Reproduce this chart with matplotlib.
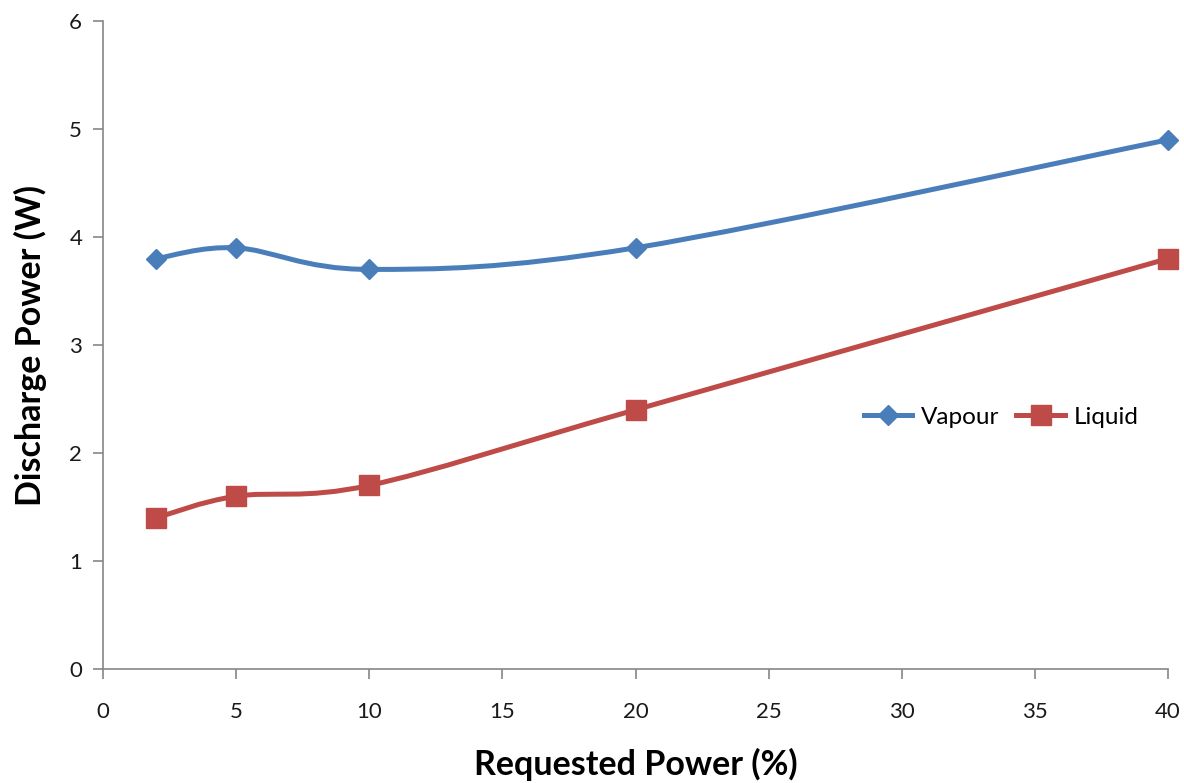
import matplotlib
matplotlib.use("Agg")
import matplotlib.pyplot as plt
import numpy as np
from matplotlib.path import Path
from matplotlib.patches import PathPatch
from matplotlib.lines import Line2D

plt.rcParams["font.family"] = ["Lato", "DejaVu Sans"]

# data
requested = [2, 5, 10, 20, 40]
vapour = [3.8, 3.9, 3.7, 3.9, 4.9]
liquid = [1.4, 1.6, 1.7, 2.4, 3.8]

x_ticks = [0, 5, 10, 15, 20, 25, 30, 35, 40]
y_ticks = [0, 1, 2, 3, 4, 5, 6]

BLUE = "#4a7ebb"
RED = "#be4b48"
AXIS = "#868686"


def smooth_path(xs, ys):
    # Excel-style smoothed line: Catmull-Rom segments as cubic Beziers
    pts = np.column_stack([xs, ys]).astype(float)
    n = len(pts)
    verts = [pts[0]]
    codes = [Path.MOVETO]
    for i in range(n - 1):
        p0 = pts[i - 1] if i > 0 else pts[i]
        p1 = pts[i]
        p2 = pts[i + 1]
        p3 = pts[i + 2] if i + 2 < n else pts[i + 1]
        c1 = p1 + (p2 - p0) / 6.0
        c2 = p2 - (p3 - p1) / 6.0
        verts += [c1, c2, p2]
        codes += [Path.CURVE4] * 3
    return Path(verts, codes)


fig = plt.figure(figsize=(11.84, 7.83), dpi=100)
ax = fig.add_axes([103 / 1184, 1 - 669 / 783, (1168 - 103) / 1184, (669 - 21) / 783])

LW = 3.6
for ys, color, marker, ms in [
    (vapour, BLUE, "D", 10.5),
    (liquid, RED, "s", 14),
]:
    ax.add_patch(PathPatch(smooth_path(requested, ys), facecolor="none",
                           edgecolor=color, linewidth=LW, zorder=2,
                           capstyle="round"))
    ax.plot(requested, ys, linestyle="none", marker=marker, markersize=ms,
            color=color, zorder=3, clip_on=False)

ax.set_xlim(0, 40)
ax.set_ylim(0, 6)
ax.set_xticks(x_ticks)
ax.set_yticks(y_ticks)

for s in ["top", "right"]:
    ax.spines[s].set_visible(False)
for s in ["left", "bottom"]:
    ax.spines[s].set_color(AXIS)
    ax.spines[s].set_linewidth(1.2)
ax.tick_params(direction="out", length=7, width=1.2, color=AXIS,
               labelsize=16, labelcolor="#1a1a1a", pad=8)
ax.tick_params(axis="x", pad=17)

ax.set_xlabel("Requested Power (%)", fontsize=24.5, fontweight="bold", va="bottom")
ax.xaxis.set_label_coords(0.5, -(781 - 669) / 648)
ax.set_ylabel("Discharge Power (W)", fontsize=24.5, fontweight="bold", va="center")
ax.yaxis.set_label_coords((30 - 103) / 1065, 0.5)

handles = [
    Line2D([], [], color=BLUE, linewidth=LW, marker="D", markersize=10.5),
    Line2D([], [], color=RED, linewidth=LW, marker="s", markersize=14),
]
fig.legend(handles, ["Vapour", "Liquid"], loc="center",
           bbox_to_anchor=(1001 / 1184, 1 - 417 / 783), ncol=2, frameon=False,
           fontsize=17.5, handlelength=2.0, handletextpad=0.35, columnspacing=0.7)

fig.savefig("out.png", dpi=100)
